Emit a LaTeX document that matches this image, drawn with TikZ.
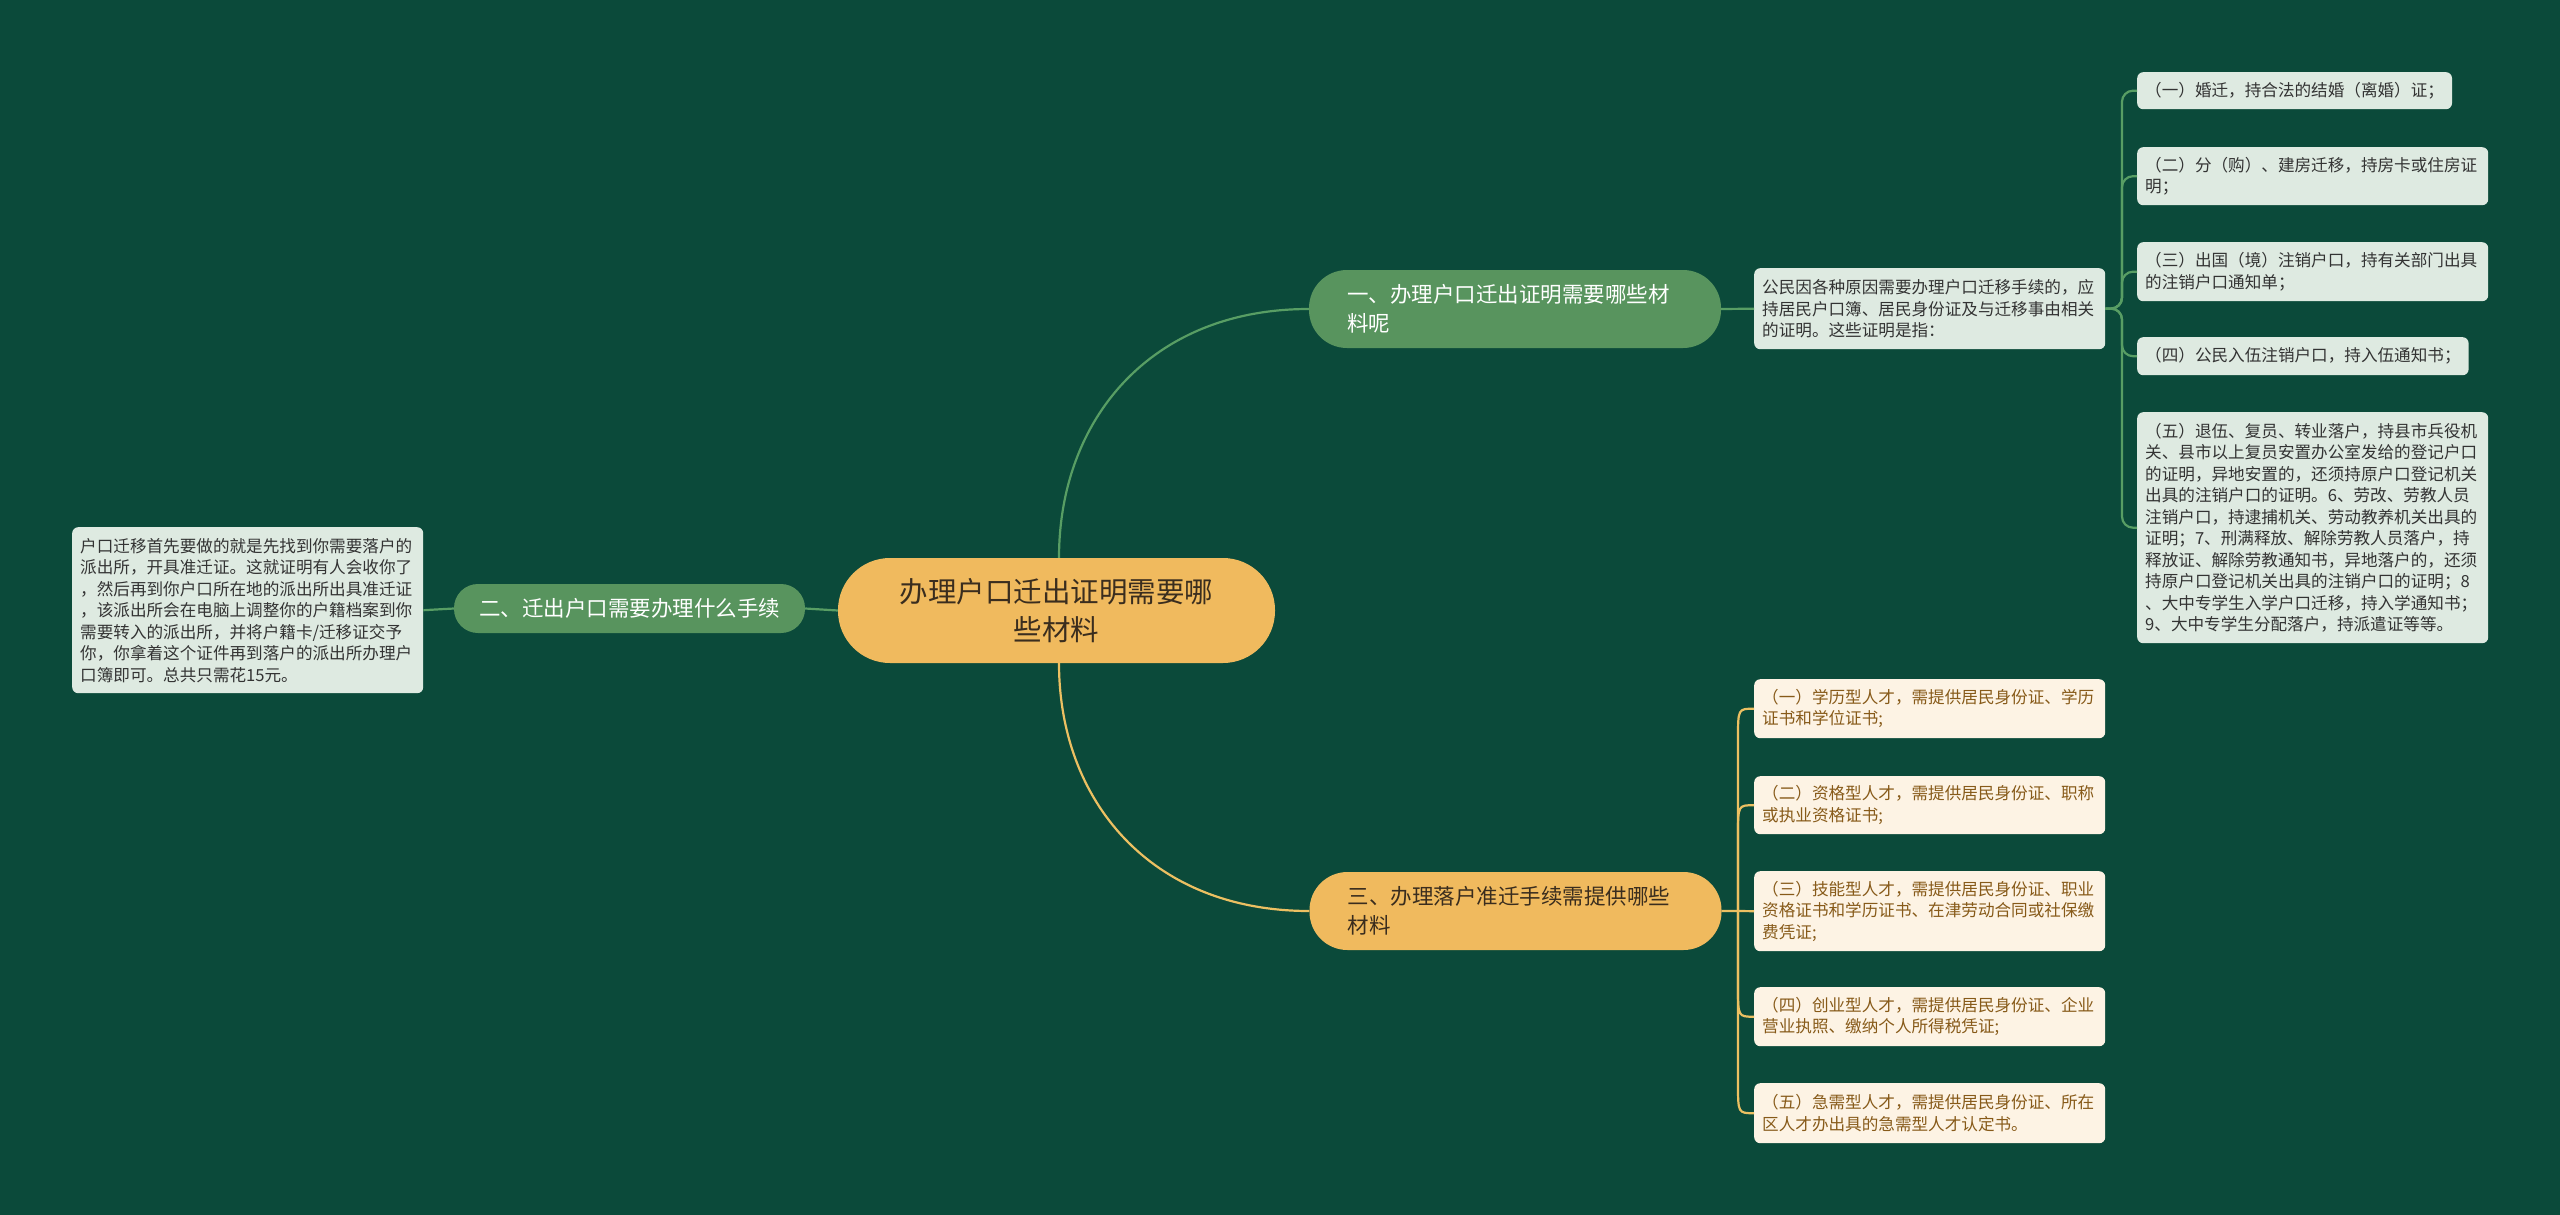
\documentclass[tikz,border=0pt]{standalone}
\usepackage{fontspec}
\setmainfont{Noto Sans CJK SC}
\definecolor{bg}{RGB}{11,74,58}
\definecolor{gfill}{RGB}{88,148,94}
\definecolor{ofill}{RGB}{240,186,94}
\definecolor{lgfill}{RGB}{222,234,225}
\definecolor{crfill}{RGB}{253,243,228}
\definecolor{lgtext}{RGB}{51,51,51}
\definecolor{crtext}{RGB}{135,90,25}
\definecolor{dtext}{RGB}{58,45,30}
\definecolor{gline}{RGB}{88,158,100}
\definecolor{yline}{RGB}{236,192,98}
\newcommand\leaffont{\fontsize{16.6}{21.5}\selectfont}
\newcommand\branchfont{\fontsize{21.5}{29}\selectfont}
\newcommand\rootfont{\fontsize{28.5}{37.5}\selectfont}
\tikzset{
  rootbox/.style={fill=ofill, rounded corners=52, minimum width=437, minimum height=105,
    align=center, font=\rootfont, text=dtext, inner sep=0},
  gbranch/.style={fill=gfill, text=white, font=\branchfont, inner ysep=0},
  obranch/.style={fill=ofill, text=dtext, font=\branchfont, inner ysep=0},
  pill/.style={rounded corners=38, minimum width=412, minimum height=78, text width=336,
    align=left, inner xsep=38},
  leafg/.style={fill=lgfill, text=lgtext, font=\leaffont, rounded corners=6,
    anchor=north west, inner xsep=8, inner ysep=2, align=left},
  leafc/.style={fill=crfill, text=crtext, font=\leaffont, rounded corners=6,
    anchor=north west, inner xsep=8, inner ysep=2, align=left},
  multi/.style={text width=335},
  glink/.style={draw=gline, line width=2.2pt},
  ylink/.style={draw=yline, line width=2.2pt},
}
\begin{document}
\begin{tikzpicture}[x=1pt,y=-1pt]
\path[fill=bg] (0,0) rectangle (2560,1215);

% root
\node[rootbox] (c) at (1056.5,610.5) {办理户口迁出证明需要哪\\些材料};

% branches
\node[gbranch, rounded corners=24, minimum width=351, minimum height=49, inner xsep=0]
  (lb) at (629.5,608.5) {二、迁出户口需要办理什么手续};
\node[gbranch, pill] (tb) at (1515,309) {一、办理户口迁出证明需要哪些材\\料呢};
\node[obranch, pill] (bb) at (1515.5,911) {三、办理落户准迁手续需提供哪些\\材料};

% left leaf
\node[leafg, multi, minimum height=166] (ll) at (72,527) {户口迁移首先要做的就是先找到你需要落户的\\派出所，开具准迁证。这就证明有人会收你了\\，然后再到你户口所在地的派出所出具准迁证\\，该派出所会在电脑上调整你的户籍档案到你\\需要转入的派出所，并将户籍卡/迁移证交予\\你，你拿着这个证件再到落户的派出所办理户\\口簿即可。总共只需花15元。};

% description
\node[leafg, multi, minimum height=81] (desc) at (1754,268) {公民因各种原因需要办理户口迁移手续的，应\\持居民户口簿、居民身份证及与迁移事由相关\\的证明。这些证明是指：};

% top leaves
\node[leafg, minimum height=37] (t1) at (2137,72) {（一）婚迁，持合法的结婚（离婚）证；};
\node[leafg, multi, minimum height=58] (t2) at (2137,147) {（二）分（购）、建房迁移，持房卡或住房证\\明；};
\node[leafg, multi, minimum height=59] (t3) at (2137,242) {（三）出国（境）注销户口，持有关部门出具\\的注销户口通知单；};
\node[leafg, minimum height=38] (t4) at (2137,337) {（四）公民入伍注销户口，持入伍通知书；};
\node[leafg, multi, minimum height=231] (t5) at (2137,412) {（五）退伍、复员、转业落户，持县市兵役机\\关、县市以上复员安置办公室发给的登记户口\\的证明，异地安置的，还须持原户口登记机关\\出具的注销户口的证明。6、劳改、劳教人员\\注销户口，持逮捕机关、劳动教养机关出具的\\证明；7、刑满释放、解除劳教人员落户，持\\释放证、解除劳教通知书，异地落户的，还须\\持原户口登记机关出具的注销户口的证明；8\\、大中专学生入学户口迁移，持入学通知书；\\9、大中专学生分配落户，持派遣证等等。};

% bottom leaves
\node[leafc, multi, minimum height=59] (b1) at (1754,679) {（一）学历型人才，需提供居民身份证、学历\\证书和学位证书;};
\node[leafc, multi, minimum height=58] (b2) at (1754,776) {（二）资格型人才，需提供居民身份证、职称\\或执业资格证书;};
\node[leafc, multi, minimum height=80] (b3) at (1754,871) {（三）技能型人才，需提供居民身份证、职业\\资格证书和学历证书、在津劳动合同或社保缴\\费凭证;};
\node[leafc, multi, minimum height=59] (b4) at (1754,987) {（四）创业型人才，需提供居民身份证、企业\\营业执照、缴纳个人所得税凭证;};
\node[leafc, multi, minimum height=60] (b5) at (1754,1083) {（五）急需型人才，需提供居民身份证、所在\\区人才办出具的急需型人才认定书。};

% connectors
\draw[glink] (c.west) -- (lb.east);
\draw[glink] (lb.west) -- (ll.east);
\draw[glink] ([xshift=2.5]c.north) .. controls (1059,420) and (1150,309) .. (tb.west);
\draw[ylink] ([xshift=2.5]c.south) .. controls (1059,800) and (1150,911) .. (bb.west);
\draw[glink] (tb.east) -- (desc.west);

\coordinate (j1) at (2122,308.5);
\foreach \t in {t1,t2,t3,t4,t5}{
  \draw[glink, rounded corners=11] (desc.east) -- (j1) |- (\t.west);
}
\coordinate (j2) at (1738,911);
\draw[ylink] (bb.east) -- (j2) -- (b3.west);
\foreach \b/\s in {b1/-30,b2/-30,b4/30,b5/30}{
  \draw[ylink] (j2) -- ([yshift=\s]j2 |- \b.west) .. controls (j2 |- \b.west) .. (\b.west);
}
\end{tikzpicture}
\end{document}
